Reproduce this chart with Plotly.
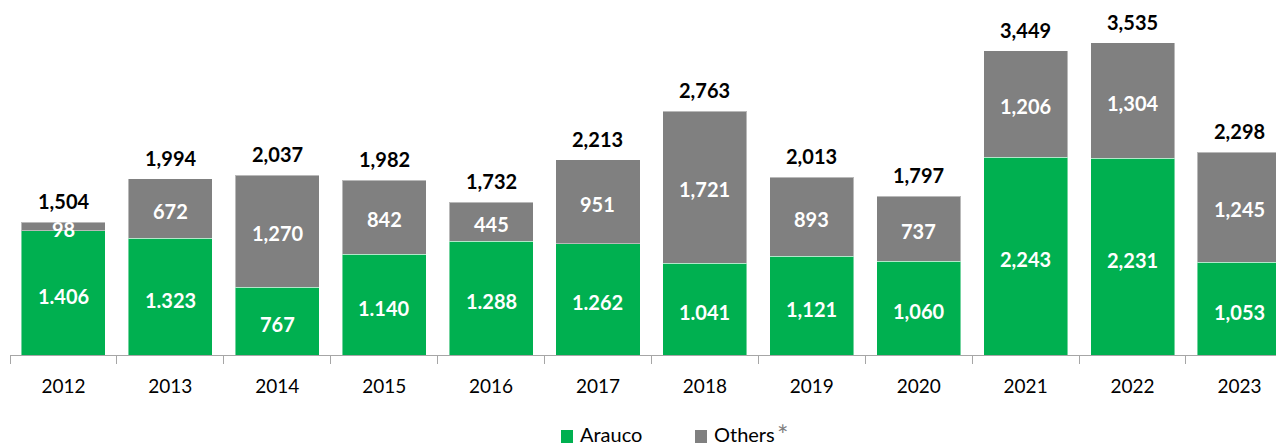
import plotly.graph_objects as go

# Annual volumes by year, split into Arauco and other contributors
years = ["2012", "2013", "2014", "2015", "2016", "2017",
         "2018", "2019", "2020", "2021", "2022", "2023"]
arauco = [1406, 1323, 767, 1140, 1288, 1262, 1041, 1121, 1060, 2243, 2231, 1053]
others = [98, 672, 1270, 842, 445, 951, 1721, 893, 737, 1206, 1304, 1245]
totals = [1504, 1994, 2037, 1982, 1732, 2213, 2763, 2013, 1797, 3449, 3535, 2298]

arauco_labels = ["1.406", "1.323", "767", "1.140", "1.288", "1.262",
                 "1.041", "1,121", "1,060", "2,243", "2,231", "1,053"]
others_labels = ["98", "672", "1,270", "842", "445", "951",
                 "1,721", "893", "737", "1,206", "1,304", "1,245"]
total_labels = ["1,504", "1,994", "2,037", "1,982", "1,732", "2,213",
                "2,763", "2,013", "1,797", "3,449", "3,535", "2,298"]

GREEN = "#00B050"
GRAY = "#808080"
FONT = "Lato"
EDGE = "rgba(255,255,255,0.45)"

W, H = 1276, 446
ML, MB = 10, 91
PLOT_W, PLOT_H = W - ML, H - MB


def px_x(px):
    """Page pixel column -> paper x."""
    return (px - ML) / PLOT_W


def px_y(py):
    """Page pixel row -> paper y."""
    return (PLOT_H - py) / PLOT_H


fig = go.Figure()
fig.add_trace(go.Bar(
    x=years, y=arauco, name="Arauco",
    marker=dict(color=GREEN, line=dict(width=1, color=EDGE)),
    hoverinfo="skip",
))
fig.add_trace(go.Bar(
    x=years, y=others, name="Others",
    marker=dict(color=GRAY, line=dict(width=1, color=EDGE)),
    hoverinfo="skip",
))

# Segment values inside the bars and totals above them
for i, (a, o, t) in enumerate(zip(arauco, others, totals)):
    fig.add_annotation(
        x=i, y=a / 2, text="<b>" + arauco_labels[i] + "</b>", showarrow=False,
        font=dict(family=FONT, size=20, color="white"),
        xanchor="center", yanchor="middle", yshift=-3,
    )
    fig.add_annotation(
        x=i, y=a + o / 2, text="<b>" + others_labels[i] + "</b>", showarrow=False,
        font=dict(family=FONT, size=20, color="white"),
        xanchor="center", yanchor="middle", yshift=-2,
    )
    fig.add_annotation(
        x=i, y=a + o, text="<b>" + total_labels[i] + "</b>", showarrow=False,
        font=dict(family=FONT, size=20, color="black"),
        xanchor="center", yanchor="middle", yshift=21,
    )

# Legend: colour swatches with their series names below the axis
legend_items = [
    (GREEN, 561, 578, "Arauco"),
    (GRAY, 695, 712, "Others"),
]
for color, sx, tx, label in legend_items:
    fig.add_shape(
        type="rect", xref="paper", yref="paper",
        x0=px_x(sx), x1=px_x(sx + 12), y0=px_y(443), y1=px_y(430),
        fillcolor=color, line=dict(width=0),
    )
    fig.add_annotation(
        xref="paper", yref="paper", x=px_x(tx), y=px_y(434),
        text=label, showarrow=False,
        font=dict(family=FONT, size=20, color="black"),
        xanchor="left", yanchor="middle",
    )
# footnote marker after "Others"
fig.add_annotation(
    xref="paper", yref="paper", x=px_x(775), y=px_y(434),
    text="*", showarrow=False,
    font=dict(family=FONT, size=27, color=GRAY),
    xanchor="left", yanchor="middle",
)

fig.update_layout(
    width=W, height=H,
    margin=dict(l=ML, r=0, t=0, b=MB),
    barmode="stack",
    bargap=0.214,
    plot_bgcolor="white",
    paper_bgcolor="white",
    font=dict(family=FONT, size=19, color="black"),
    showlegend=False,
    xaxis=dict(
        type="category",
        range=[-0.5, 11.342],
        tickson="boundaries",
        ticks="outside", ticklen=8, tickcolor="#A6A6A6", tickwidth=1,
        showline=True, linecolor="#A6A6A6", linewidth=1,
        showgrid=False,
        ticklabelstandoff=14,
        tickfont=dict(family=FONT, size=19, color="black"),
    ),
    yaxis=dict(
        range=[0, 4022],
        visible=False,
        showgrid=False,
        zeroline=False,
    ),
)

fig.write_html("out.html")
